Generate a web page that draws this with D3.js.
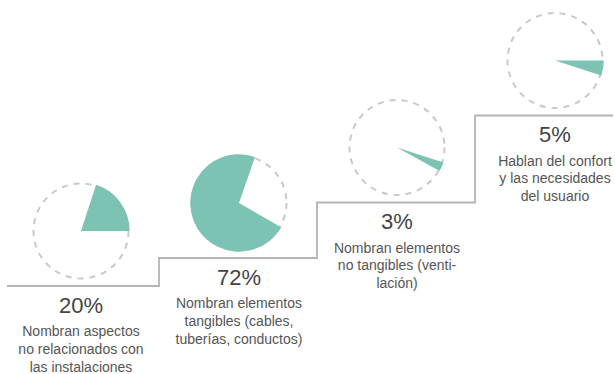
<!DOCTYPE html>
<html>
<head>
<meta charset="utf-8">
<script src="https://cdn.jsdelivr.net/npm/d3@7"></script>
<style>
  body { margin: 0; background: #fff; }
  svg { display: block; font-family: "Liberation Sans", Arial, sans-serif; }
</style>
</head>
<body>
<div id="chart"></div>
<script>
// données
const categories = ["instalaciones", "tangibles", "noTangibles", "usuario"];
const percents = [20, 72, 3, 5];
const labels = [
  ["Nombran aspectos", "no relacionados con", "las instalaciones"],
  ["Nombran elementos", "tangibles (cables,", "tuberías, conductos)"],
  ["Nombran elementos", "no tangibles (venti-", "lación)"],
  ["Hablan del confort", "y las necesidades", "del usuario"]
];

// mise en page
const width = 615, height = 374,
    radius = 47.5,
    teal = "#7dc3b3",
    stepY = [286, 258, 202.5, 115.5],   // hauteur de chaque marche
    rotation = [18, 120, 108, 90];      // angle de départ de chaque part (degrés)

const svg = d3.select("#chart").append("svg")
    .attr("width", width)
    .attr("height", height);

const x = d3.scaleBand().domain(categories).range([2, 634]).padding(0);
const angle = d3.scaleLinear().domain([0, 100]).range([0, 2 * Math.PI]);
const rad = d => d * Math.PI / 180;

// escalier
const pts = [];
categories.forEach((c, i) => {
    const x0 = i === 0 ? 7 : x(c) - 1,
        x1 = i === categories.length - 1 ? 613 : x(c) + x.bandwidth() - 1;
    pts.push([x0, stepY[i]], [x1, stepY[i]]);
});
svg.append("path")
    .attr("d", d3.line()(pts))
    .style("fill", "none")
    .style("stroke", "#b4b4b4")
    .style("stroke-width", 1.8);

// la part couvre le trait pointillé
const arc = d3.arc().innerRadius(0).outerRadius(radius + 1.2);

const g = svg.selectAll("g.item")
    .data(categories)
    .enter().append("g")
    .attr("class", "item")
    .attr("transform", (c, i) => "translate(" + (x(c) + x.bandwidth() / 2) + "," + stepY[i] + ")");

// cercle pointillé
g.append("circle")
    .attr("cx", 0)
    .attr("cy", -55)
    .attr("r", radius)
    .style("fill", "none")
    .style("stroke", "#c9c9c9")
    .style("stroke-width", 2)
    .style("stroke-dasharray", "6,6");

// part du camembert
g.append("path")
    .attr("transform", "translate(0,-55)")
    .attr("d", (c, i) => arc({
        startAngle: rad(rotation[i]),
        endAngle: rad(rotation[i]) + angle(percents[i])
    }))
    .style("fill", teal);

// pourcentage
g.append("text")
    .attr("y", 26.5)
    .attr("text-anchor", "middle")
    .style("font-size", "22px")
    .style("fill", "#444")
    .text((c, i) => percents[i] + "%");

// description
const desc = g.append("text")
    .attr("text-anchor", "middle")
    .style("font-size", "14px")
    .style("fill", "#555");

desc.selectAll("tspan")
    .data((c, i) => labels[i])
    .enter().append("tspan")
    .attr("x", 0)
    .attr("y", (d, j) => 50 + j * 17.8)
    .text(d => d);
</script>
</body>
</html>
